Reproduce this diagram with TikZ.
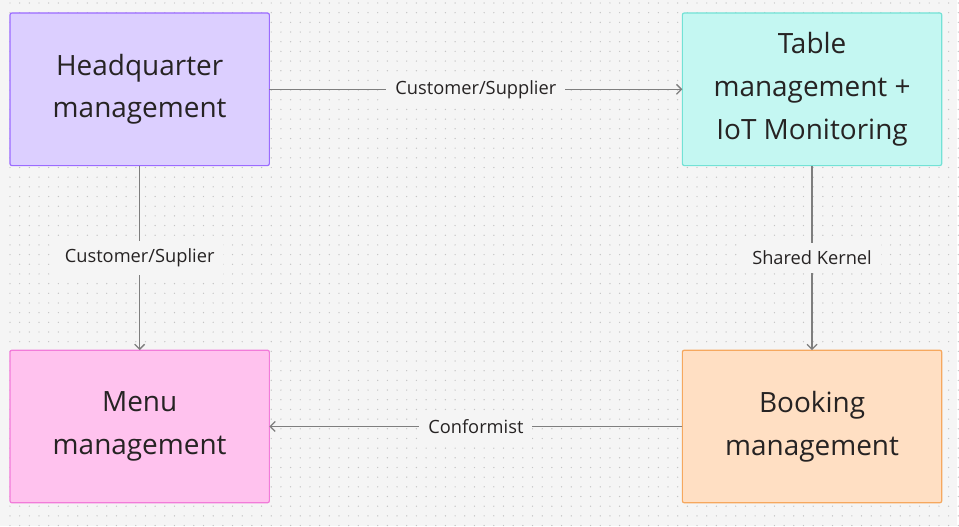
\documentclass[tikz,border=0pt]{standalone}
\usepackage{fontspec}
\setmainfont{Open Sans}
\usetikzlibrary{positioning,arrows.meta}

\definecolor{bg}{HTML}{F5F5F5}
\definecolor{griddot}{HTML}{C4C4C4}
\definecolor{ink}{HTML}{262323}
\definecolor{edge}{HTML}{7E7E7E}
\definecolor{hqfill}{HTML}{DCCFFF}
\definecolor{hqline}{HTML}{9B6BFF}
\definecolor{tablefill}{HTML}{C4F7F2}
\definecolor{tableline}{HTML}{73E2D6}
\definecolor{menufill}{HTML}{FFC2EE}
\definecolor{menuline}{HTML}{F27BD9}
\definecolor{bookfill}{HTML}{FFDFC3}
\definecolor{bookline}{HTML}{F6A85E}

\begin{document}
\begin{tikzpicture}[
    x=1pt, y=1pt,
    node distance=185pt and 414pt, % Abstand zwischen den Kontexten
    every node/.style={text=ink}, % Textfarbe
    ctx/.style={draw, line width=1.2pt, rounded corners=2pt, align=center, minimum width=260pt, minimum height=153pt, outer sep=0pt, inner sep=0pt, font=\fontsize{28}{43}\selectfont}, % Stil der Kontexte
    rel/.style={draw=edge, line width=1.3pt, -{Straight Barb[length=5pt,width=10pt]}}, % Stil der Beziehungen
    lbl/.style={fill=bg, inner xsep=9pt, inner ysep=8pt, font=\fontsize{18.3}{20}\selectfont} % Stil der Beschriftungen
]

% Hintergrund mit Punktraster
\fill[bg] (0,0) rectangle (959,-527);
\foreach \i in {0,...,98}
  \foreach \j in {0,...,54}
    \fill[griddot] (10+\i*9.7,-3-\j*9.7) circle (0.7);

% Kontexte
\node[ctx, fill=hqfill, draw=hqline] (hq) at (140,-89.5) {Headquarter\\management};
\node[ctx, fill=tablefill, draw=tableline] (table) [right=of hq] {Table\\management +\\IoT Monitoring};
\node[ctx, fill=menufill, draw=menuline] (menu) [below=of hq] {Menu\\management};
\node[ctx, fill=bookfill, draw=bookline] (booking) [below=of table] {Booking\\management};

% Beziehungen
\draw[rel] (hq) -- node[lbl] {Customer/Supplier} (table);
\draw[rel] (hq) -- node[lbl] {Customer/Suplier} (menu);
\draw[rel] (table) -- node[lbl] {Shared Kernel} (booking);
\draw[rel] (booking) -- node[lbl] {Conformist} (menu);

\end{tikzpicture}
\end{document}
